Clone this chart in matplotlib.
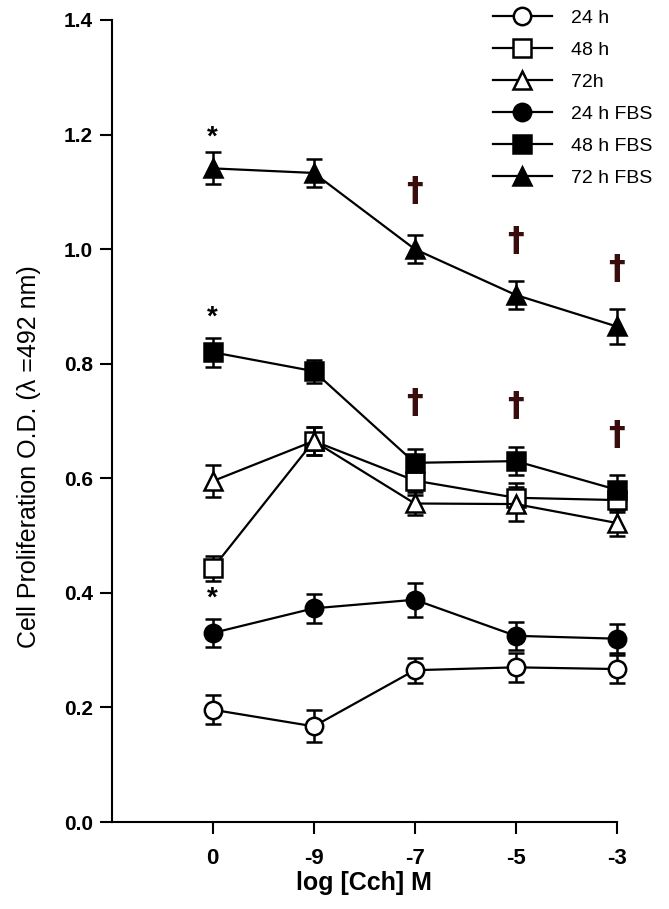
import matplotlib
matplotlib.use("Agg")
import matplotlib.pyplot as plt
from matplotlib.lines import Line2D
import numpy as np

plt.rcParams['font.family'] = ['Liberation Sans', 'DejaVu Sans']

conc_labels = ['0', '-9', '-7', '-5', '-3']
xpos = np.arange(1, 6)

h24 = [0.196, 0.167, 0.265, 0.270, 0.267]
h24_err = [0.025, 0.028, 0.022, 0.025, 0.025]
h48 = [0.443, 0.665, 0.596, 0.566, 0.562]
h48_err = [0.022, 0.025, 0.025, 0.025, 0.020]
h72 = [0.595, 0.665, 0.556, 0.555, 0.522]
h72_err = [0.028, 0.025, 0.020, 0.030, 0.022]
h24_fbs = [0.330, 0.373, 0.388, 0.325, 0.320]
h24_fbs_err = [0.025, 0.025, 0.030, 0.025, 0.025]
h48_fbs = [0.820, 0.787, 0.627, 0.630, 0.580]
h48_fbs_err = [0.025, 0.020, 0.025, 0.025, 0.025]
h72_fbs = [1.141, 1.133, 1.000, 0.920, 0.865]
h72_fbs_err = [0.028, 0.025, 0.025, 0.025, 0.030]

star_y = [1.195, 0.88, 0.39]
dagger_72 = [1.10, 1.014, 0.965]
dagger_48 = [0.73, 0.726, 0.674]

series = [
    (h24, h24_err, 'o', 'white', '24 h'),
    (h48, h48_err, 's', 'white', '48 h'),
    (h72, h72_err, '^', 'white', '72h'),
    (h24_fbs, h24_fbs_err, 'o', 'black', '24 h FBS'),
    (h48_fbs, h48_fbs_err, 's', 'black', '48 h FBS'),
    (h72_fbs, h72_fbs_err, '^', 'black', '72 h FBS'),
]

fig = plt.figure(figsize=(6.69, 9.09), dpi=100)
ax = fig.add_axes([0.167, 0.0957, 0.755, 0.8823])

handles = []
for vals, err, mk, fc, lab in series:
    ms = 12.5
    cont = ax.errorbar(xpos, vals, yerr=err, color='black', lw=1.6, marker=mk,
                       markersize=ms, markerfacecolor=fc, markeredgecolor='black',
                       markeredgewidth=1.8, capsize=6, capthick=2, elinewidth=1.8)
    for art in cont.get_children():
        art.set_clip_on(False)
    handles.append(Line2D([], [], color='black', lw=1.6, marker=mk, markersize=ms,
                          markerfacecolor=fc, markeredgecolor='black',
                          markeredgewidth=1.8, label=lab))

for y in star_y:
    ax.text(1, y, '*', ha='center', va='center', fontsize=20, fontweight='bold')
for x, y in zip(xpos[2:], dagger_72):
    ax.text(x, y, '\u2020', ha='center', va='center', fontsize=24,
            fontweight='bold', color='#3a0d0d', family=['DejaVu Sans'])
for x, y in zip(xpos[2:], dagger_48):
    ax.text(x, y, '\u2020', ha='center', va='center', fontsize=24,
            fontweight='bold', color='#3a0d0d', family=['DejaVu Sans'])

ax.set_xlim(0.0, 5.0)
ax.set_ylim(0, 1.4)
ax.set_xticks(xpos)
ax.set_xticklabels(conc_labels, fontsize=16, fontweight='bold')
yt = np.arange(0, 1.41, 0.2)
ax.set_yticks(yt)
ax.set_yticklabels([f'{v:.1f}' for v in yt], fontsize=15, fontweight='bold')
ax.tick_params(direction='out', length=8.5, width=1.5)
ax.tick_params(axis='x', pad=10)
ax.tick_params(axis='y', pad=5)
ax.spines['top'].set_visible(False)
ax.spines['right'].set_visible(False)
ax.spines['left'].set_linewidth(1.5)
ax.spines['bottom'].set_linewidth(1.5)

ax.set_xlabel('log [Cch] M', fontsize=18, fontweight='bold', labelpad=2)
ax.set_ylabel('Cell Proliferation O.D. (\u03bb =492 nm)', fontsize=18,
              fontweight='normal')
ax.yaxis.set_label_coords(-0.14, 0.455)

ax.legend(handles=handles, loc='upper right', bbox_to_anchor=(1.105, 1.035),
          frameon=False, fontsize=14, handlelength=3.0, labelspacing=0.74,
          handletextpad=1.0)

fig.savefig('out.png', dpi=100)
